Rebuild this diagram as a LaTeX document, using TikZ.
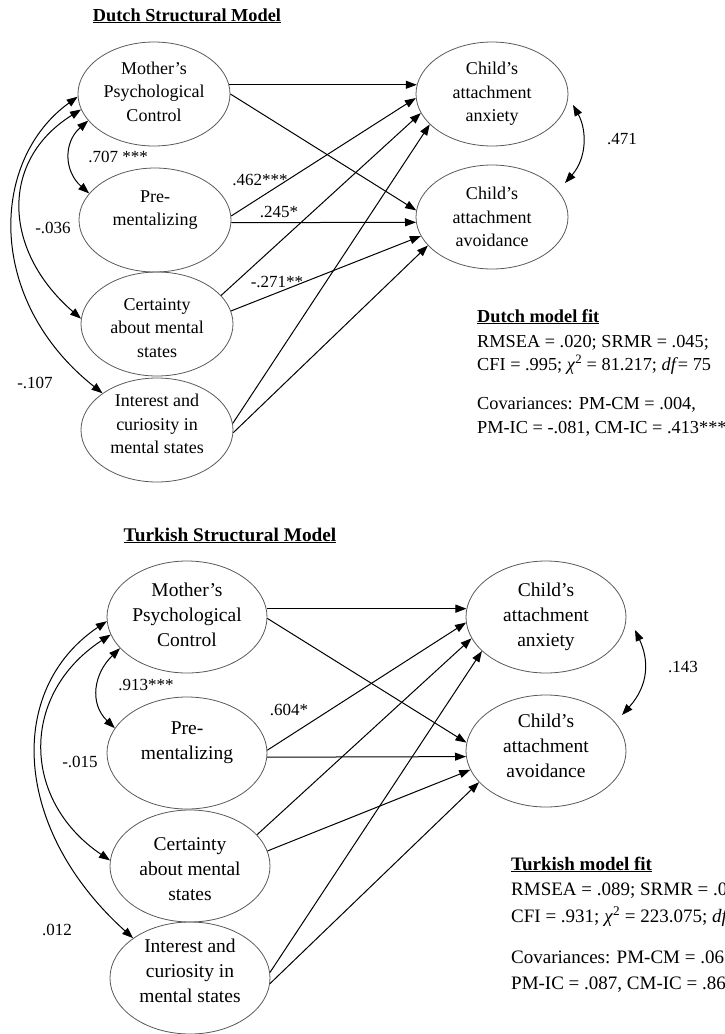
\documentclass[tikz,border=0pt]{standalone}
\usepackage{fontspec}
\setmainfont{Liberation Serif}
\usetikzlibrary{shapes.geometric,arrows.meta}
% invisible struts that move a node's text block up (depth) or down (height)
\newcommand\padbelow[1]{\rule[-#1]{0pt}{#1}}
\newcommand\padabove[1]{\rule{0pt}{#1}}
\begin{document}
\begin{tikzpicture}[x=1pt,y=-1pt,
  latent/.style={ellipse, draw=black!65, line width=0.8pt, inner sep=0pt, align=center,
    minimum width=152pt, minimum height=104pt, font=\fontsize{18}{23.5}\selectfont},
  latentT/.style={latent, minimum width=160pt, minimum height=112pt,
    font=\fontsize{19.5}{25}\selectfont},
  reg/.style={-{Triangle[length=11pt,width=8pt]}, line width=1pt},
  covar/.style={{Triangle[length=11pt,width=8pt]}-{Triangle[length=11pt,width=8pt]}, line width=1pt},
  coef/.style={inner sep=0pt, font=\fontsize{17}{20}\selectfont},
  heading/.style={inner sep=0pt, anchor=base, font=\fontsize{18.3}{22}\selectfont\bfseries},
  fithead/.style={inner sep=0pt, anchor=base west, font=\fontsize{18.3}{22}\selectfont\bfseries},
  fitline/.style={inner sep=0pt, anchor=base west, font=\fontsize{18.3}{22}\selectfont},
  fitlineT/.style={fitline, font=\fontsize{19}{22}\selectfont},
]
\useasboundingbox (0,0) rectangle (725,1034);
\clip (0,0) rectangle (725,1034);

% ---------------- Dutch model ----------------
\node[heading] (dtitle) at (187,21) {\underline{Dutch Structural Model}};

\node[latent] (dmpc)  at (154,94)  {Mother’s\\Psychological\\Control\padbelow{5pt}};
\node[latent] (dpre)  at (155,220) {Pre-\\mentalizing\\\mbox{}};
\node[latent] (dcert) at (157,324) {\padabove{20pt}Certainty\\about mental\\states};
\node[latent] (dint)  at (157,430) {Interest and\\curiosity in\\mental states\padbelow{12pt}};
\node[latent] (danx)  at (492,94)  {Child’s\\attachment\\anxiety};
\node[latent] (davo)  at (492,217) {Child’s\\attachment\\avoidance};

% regression paths
\draw[reg] (dmpc.7)   -- (danx.173);
\draw[reg] (dmpc.0)   -- (davo.175);
\draw[reg] (dpre.3)   -- (danx.-177);
\draw[reg] (dpre.-2)  -- (davo.184);
\draw[reg] (dcert.24) -- (danx.-165);
\draw[reg] (dcert.10) -- (davo.-165);
\draw[reg] (dint.5)   -- (danx.-154);
\draw[reg] (dint.-2)  -- (davo.-156);

% covariances
\draw[covar] (dmpc.-158) .. controls +(-25,22) and +(-25,-22) .. (dpre.158);
\draw[covar] (dmpc.-168) .. controls (0,160) and (2,250) .. (dcert.176);
\draw[covar] (dmpc.-178) .. controls (-10,160) and (-15,300) .. (dint.146);
\draw[covar] ([shift={(81,11)}]danx.center) .. controls +(14,25) and +(22,-25) .. ([shift={(73,-34)}]davo.center);

% coefficients
\node[coef] (d707) at (118,157) {.707 ***};
\node[coef] (d036) at (53,228)  {-.036};
\node[coef] (d107) at (35,383)  {-.107};
\node[coef] (d462) at (260,180) {.462***};
\node[coef] (d245) at (279,212) {.245*};
\node[coef] (d271) at (277,282) {-.271**};
\node[coef] (d471) at (622,139) {.471};

% fit
\node[fithead] (dfit)  at (477,322) {\underline{Dutch model fit}};
\node[fitline] (dfit1) at (477,347) {RMSEA = .020; SRMR = .045;};
\node[fitline] (dfit2) at (477,370) {CFI = .995; \textit{χ}\textsuperscript{2} = 81.217; \textit{df}= 75};
\node[fitline] (dfit3) at (477,409) {Covariances: PM-CM = .004,};
\node[fitline] (dfit4) at (477,433) {PM-IC = -.081, CM-IC = .413***};

% ---------------- Turkish model ----------------
\node[heading, font=\fontsize{19.3}{23}\selectfont\bfseries] (ttitle) at (230,541) {\underline{Turkish Structural Model}};

\node[latentT] (tmpc)  at (187,617) {Mother’s\\Psychological\\Control\padbelow{4pt}};
\node[latentT] (tpre)  at (187,753) {Pre-\\mentalizing\\\mbox{}};
\node[latentT] (tcert) at (190,866) {\padabove{20pt}Certainty\\about mental\\states};
\node[latentT] (tint)  at (190,978) {Interest and\\curiosity in\\mental states\padbelow{14pt}};
\node[latentT] (tanx)  at (546,617) {Child’s\\attachment\\anxiety};
\node[latentT] (tavo)  at (546,751) {Child’s\\attachment\\avoidance\padbelow{10pt}};

% regression paths
\draw[reg] (tmpc.6)   -- (tanx.174);
\draw[reg] (tmpc.-1)  -- (tavo.174);
\draw[reg] (tpre.2)   -- (tanx.-176);
\draw[reg] (tpre.-3)  -- (tavo.184);
\draw[reg] (tcert.25) -- (tanx.-164);
\draw[reg] (tcert.11) -- (tavo.-166);
\draw[reg] (tint.4)   -- (tanx.-152);
\draw[reg] (tint.-4)  -- (tavo.-155);

% covariances
\draw[covar] (tmpc.-155) .. controls +(-26,25) and +(-26,-25) .. (tpre.161);
\draw[covar] (tmpc.-167) .. controls (20,694) and (21,800) .. (tcert.176);
\draw[covar] (tmpc.-177) .. controls (5,690) and (13,830) .. (tint.145);
\draw[covar] ([shift={(89,13)}]tanx.center) .. controls +(14,30) and +(27,-30) .. ([shift={(76,-36)}]tavo.center);

% coefficients
\node[coef] (t913) at (146,685) {.913***};
\node[coef] (t015) at (80,762)  {-.015};
\node[coef] (t012) at (57,930)  {.012};
\node[coef] (t604) at (289,710) {.604*};
\node[coef] (t143) at (683,667) {.143};

% fit
\node[fithead, font=\fontsize{19}{23}\selectfont\bfseries] (tfit) at (511,870) {\underline{Turkish model fit}};
\node[fitlineT] (tfit1) at (511,895) {RMSEA = .089; SRMR = .0};
\node[fitlineT] (tfit2) at (511,922) {CFI = .931; \textit{χ}\textsuperscript{2} = 223.075; \textit{df}};
\node[fitlineT] (tfit3) at (511,963) {Covariances: PM-CM = .06};
\node[fitlineT] (tfit4) at (511,989) {PM-IC = .087, CM-IC = .86};
\end{tikzpicture}
\end{document}
